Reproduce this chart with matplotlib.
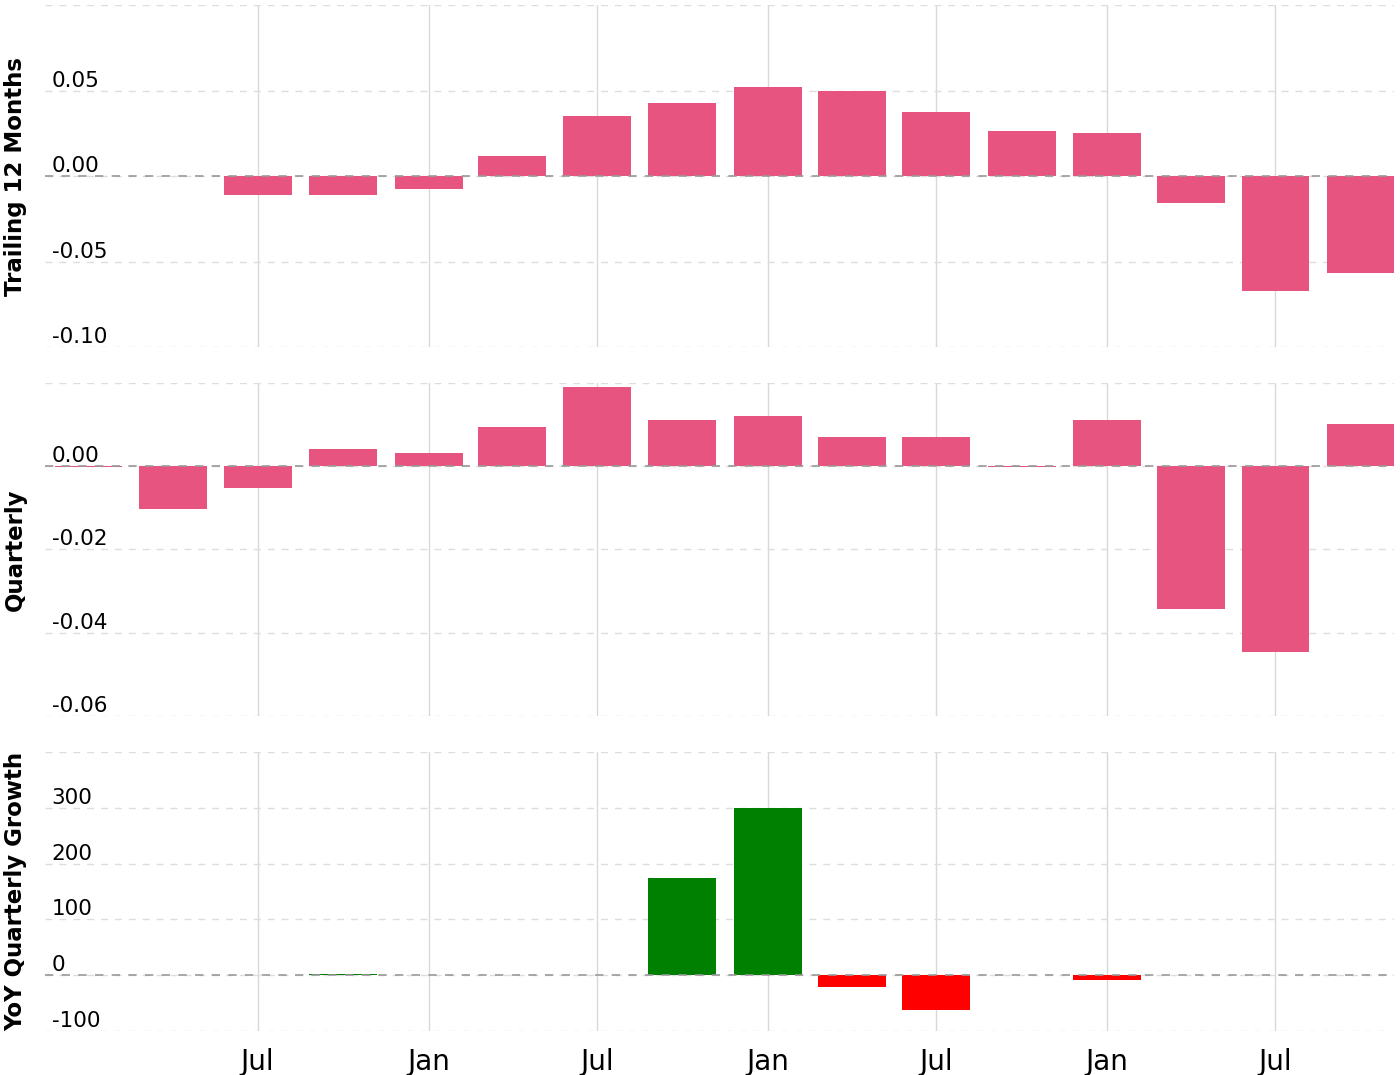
import numpy as np
import pandas as pd
import matplotlib
matplotlib.use("Agg")
import matplotlib.pyplot as plt
import matplotlib.dates as mdates

plt.rcParams['font.family'] = ['DejaVu Sans']
plt.rcParams['axes.unicode_minus'] = False

fechas = pd.date_range("2020-01-01", periods=16, freq="QS")
trailing = [np.nan, np.nan, -0.011, -0.011, -0.0077, 0.0117, 0.035, 0.043,
            0.052, 0.0497, 0.0374, 0.0263, 0.0251, -0.0158, -0.0673, -0.0567]
quarterly = [-0.0001, -0.0104, -0.0053, 0.0041, 0.0031, 0.0094, 0.019, 0.0111,
             0.012, 0.007, 0.007, -0.0003, 0.0111, -0.0342, -0.0446, 0.0101]
yoy = [np.nan, np.nan, np.nan, 1.5, np.nan, np.nan, np.nan, 174,
       300, -21, -62, np.nan, -9, np.nan, np.nan, np.nan]
marcas_x = pd.date_range("2020-07-01", periods=7, freq="6MS")

rosa = "#e75480"
fig = plt.figure(figsize=(14, 10.75), dpi=100)
ax1 = fig.add_axes([0.032, 0.6772, 0.964, 0.3181])
ax2 = fig.add_axes([0.032, 0.3340, 0.964, 0.3098])
ax3 = fig.add_axes([0.032, 0.0409, 0.964, 0.2595])

ancho = 73
colores_yoy = ["green" if v >= 0 else "red" for v in np.nan_to_num(yoy)]
ax1.bar(fechas, trailing, width=ancho, color=rosa, zorder=2)
ax2.bar(fechas, quarterly, width=ancho, color=rosa, zorder=2)
ax3.bar(fechas, yoy, width=ancho, color=colores_yoy, zorder=2)

config = [
    (ax1, (-0.10, 0.10), [-0.10, -0.05, 0.0, 0.05, 0.10], "{:.2f}", "Trailing 12 Months"),
    (ax2, (-0.06, 0.02), [-0.06, -0.04, -0.02, 0.0, 0.02], "{:.2f}", "Quarterly"),
    (ax3, (-100, 400), [-100, 0, 100, 200, 300, 400], "{:.0f}", "YoY Quarterly Growth"),
]

for ax, lims, ticks, fmt, nombre in config:
    ax.set_xlim(pd.Timestamp("2019-11-15"), pd.Timestamp("2023-11-06"))
    ax.set_ylim(*lims)
    ax.set_yticks(ticks)
    etiquetas = [fmt.format(t) for t in ticks]
    etiquetas[-1] = ""
    ax.set_yticklabels(etiquetas)
    for s in ax.spines.values():
        s.set_visible(False)
    ax.set_xticks(marcas_x)
    ax.xaxis.set_major_formatter(mdates.DateFormatter("%b"))
    ax.grid(axis="x", color="#d8d8d8", lw=1, ls="-", zorder=0)
    ax.grid(axis="y", color="#dddddd", lw=1, ls=(0, (5, 5)), zorder=0)
    ax.axhline(0, color="#999999", lw=1.2, ls=(0, (5, 5)), zorder=3)
    ax.tick_params(axis="y", length=0, pad=-5, labelsize=15.5)
    for lbl in ax.get_yticklabels():
        lbl.set_horizontalalignment("left")
        lbl.set_verticalalignment("bottom")
    ax.tick_params(axis="x", length=0, labelsize=20, pad=12)
    ax.set_ylabel(nombre, fontsize=16.5, fontweight="bold")
    ax.yaxis.set_label_coords(-0.013, 0.5)

ax1.tick_params(axis="x", labelbottom=False)
ax2.tick_params(axis="x", labelbottom=False)

plt.savefig("out.png")
